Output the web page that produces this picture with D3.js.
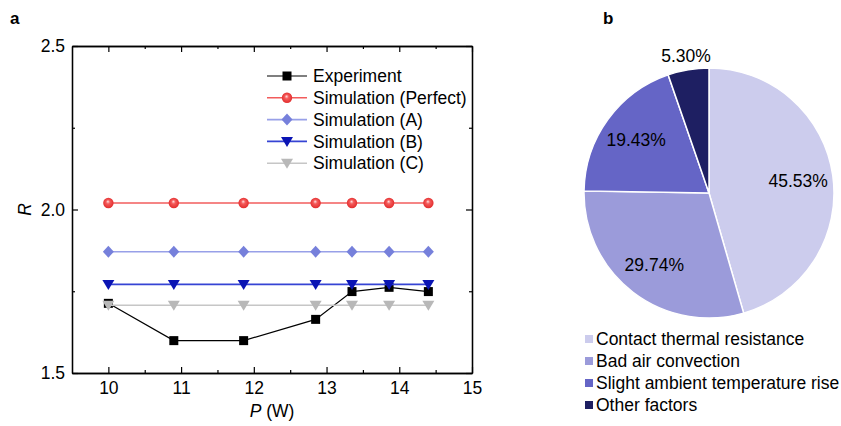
<!DOCTYPE html>
<html>
<head>
<meta charset="utf-8">
<script src="https://cdn.jsdelivr.net/npm/d3@7"></script>
<style>
  body { margin: 0; background: #fff; }
  svg { font-family: "Liberation Sans", Arial, sans-serif; }
</style>
</head>
<body>
<div id="chart"></div>
<script>
// panel a data
var powers = [10, 10.9, 11.86, 12.85, 13.35, 13.86, 14.4];
var experiment = [1.713, 1.599, 1.599, 1.664, 1.749, 1.762, 1.749];
var simPerfect = [2.02, 2.02, 2.02, 2.02, 2.02, 2.02, 2.02];
var simA = [1.871, 1.871, 1.871, 1.871, 1.871, 1.871, 1.871];
var simB = [1.771, 1.771, 1.771, 1.771, 1.771, 1.771, 1.771];
var simC = [1.707, 1.707, 1.707, 1.707, 1.707, 1.707, 1.707];
var seriesNames = ["Experiment", "Simulation (Perfect)", "Simulation (A)", "Simulation (B)", "Simulation (C)"];
var xTicks = [10, 11, 12, 13, 14, 15];
var yTicks = [1.5, 2.0, 2.5];

// panel b data
var factors = ["Contact thermal resistance", "Bad air convection", "Slight ambient temperature rise", "Other factors"];
var shares = [45.53, 29.74, 19.43, 5.30];
var pieColors = ["#cccced", "#9b9bda", "#6565c6", "#1e1f62"];

var w = 841, h = 426;
var fs = 17.5;
var svg = d3.select("#chart").append("svg")
    .attr("width", w)
    .attr("height", h);

var defs = svg.append("defs");
var grad = defs.append("radialGradient").attr("id", "ball")
    .attr("cx", "50%").attr("cy", "50%").attr("r", "55%")
    .attr("fx", "45%").attr("fy", "35%");
grad.append("stop").attr("offset", "0%").attr("stop-color", "#ffe0e0");
grad.append("stop").attr("offset", "35%").attr("stop-color", "#f45a5a");
grad.append("stop").attr("offset", "100%").attr("stop-color", "#e02828");

// ---------- panel a ----------
var margin = {top: 46, left: 72, right: 369, bottom: 53};
var innerW = w - margin.left - margin.right;
var innerH = h - margin.top - margin.bottom;

var x = d3.scaleLinear().domain([9.5, 15]).range([0, innerW]);
var y = d3.scaleLinear().domain([1.5, 2.5]).range([innerH, 0]);

var g = svg.append("g").attr("transform", `translate(${margin.left},${margin.top})`);

var minorX = [10.5, 11.5, 12.5, 13.5, 14.5];
var minorY = [1.75, 2.25];

function tickAxes() {
  var bottom = d3.axisBottom(x).tickValues(xTicks).tickSizeInner(-6).tickSizeOuter(0).tickPadding(9).tickFormat(d3.format("d"));
  var left = d3.axisLeft(y).tickValues(yTicks).tickSizeInner(-6).tickSizeOuter(0).tickPadding(7).tickFormat(d3.format(".1f"));
  var top = d3.axisTop(x).tickValues(xTicks).tickSizeInner(-6).tickSizeOuter(0).tickFormat("");
  var right = d3.axisRight(y).tickValues(yTicks).tickSizeInner(-6).tickSizeOuter(0).tickFormat("");

  g.append("g").attr("transform", `translate(0,${innerH})`).call(bottom);
  g.append("g").call(left);
  g.append("g").call(top);
  g.append("g").attr("transform", `translate(${innerW},0)`).call(right);

  g.append("g").attr("transform", `translate(0,${innerH})`)
    .call(d3.axisBottom(x).tickValues(minorX).tickSizeInner(-3).tickSizeOuter(0).tickFormat(""));
  g.append("g")
    .call(d3.axisTop(x).tickValues(minorX).tickSizeInner(-3).tickSizeOuter(0).tickFormat(""));
  g.append("g")
    .call(d3.axisLeft(y).tickValues(minorY).tickSizeInner(-3).tickSizeOuter(0).tickFormat(""));
  g.append("g").attr("transform", `translate(${innerW},0)`)
    .call(d3.axisRight(y).tickValues(minorY).tickSizeInner(-3).tickSizeOuter(0).tickFormat(""));

  g.selectAll(".domain").attr("stroke", "#000").attr("stroke-width", 1.3);
  g.selectAll(".tick line").attr("stroke", "#000").attr("stroke-width", 1.2);
  g.selectAll(".tick text").attr("font-size", fs).attr("fill", "#000")
    .attr("font-family", "Liberation Sans, Arial, sans-serif");
}

var lineGen = d3.line().x(d => x(d[0])).y(d => y(d[1]));

var series = [
  {name: seriesNames[0], vals: experiment, line: "#000", fill: "#000", width: 1.2, marker: "square"},
  {name: seriesNames[1], vals: simPerfect, line: "#f25c5c", fill: "url(#ball)", width: 1.6, marker: "ball"},
  {name: seriesNames[2], vals: simA, line: "#98a0e8", fill: "#7680db", width: 1.6, marker: "diamond"},
  {name: seriesNames[3], vals: simB, line: "#3644d4", fill: "#0a14b4", width: 1.8, marker: "tri"},
  {name: seriesNames[4], vals: simC, line: "#c6c6c6", fill: "#b8b8b8", width: 1.6, marker: "tri"}
];

function drawMarker(sel, s, cx, cy) {
  if (s.marker == "square") {
    sel.append("rect").attr("x", cx - 4.5).attr("y", cy - 4.5).attr("width", 9).attr("height", 9).attr("fill", s.fill);
  } else if (s.marker == "ball") {
    sel.append("circle").attr("cx", cx).attr("cy", cy).attr("r", 5.2).attr("fill", s.fill);
  } else if (s.marker == "diamond") {
    sel.append("path").attr("d", `M${cx},${cy - 6}L${cx + 5.5},${cy}L${cx},${cy + 6}L${cx - 5.5},${cy}Z`).attr("fill", s.fill);
  } else {
    sel.append("path").attr("d", `M${cx - 6},${cy - 4.5}L${cx + 6},${cy - 4.5}L${cx},${cy + 5.5}Z`).attr("fill", s.fill);
  }
}

series.forEach(function (s) {
  var pts = powers.map((p, i) => [p, s.vals[i]]);
  var sg = g.append("g");
  sg.append("path").datum(pts)
    .attr("d", lineGen)
    .attr("fill", "none")
    .attr("stroke", s.line)
    .attr("stroke-width", s.width);
  pts.forEach(d => drawMarker(sg, s, x(d[0]), y(d[1])));
});

tickAxes();

// legend a
var leg = g.append("g").attr("transform", "translate(195,30)");
series.forEach(function (s, i) {
  var ly = i * 21.8;
  leg.append("line").attr("x1", 0).attr("x2", 40).attr("y1", ly).attr("y2", ly)
    .attr("stroke", s.line).attr("stroke-width", s.width);
  drawMarker(leg, s, 20, ly);
  leg.append("text").attr("x", 46).attr("y", ly).attr("dy", "0.35em")
    .attr("font-size", fs).text(s.name);
});

// axis titles
var xt = svg.append("text").attr("x", margin.left + innerW / 2).attr("y", 417)
  .attr("text-anchor", "middle").attr("font-size", fs);
xt.append("tspan").attr("font-style", "italic").text("P");
xt.append("tspan").text(" (W)");

svg.append("text").attr("transform", `translate(31,${margin.top + innerH / 2}) rotate(-90)`)
  .attr("text-anchor", "middle").attr("font-size", fs).attr("font-style", "italic").text("R");

svg.append("text").attr("x", 10).attr("y", 24).attr("font-size", 17).attr("font-weight", "bold").text("a");
svg.append("text").attr("x", 603).attr("y", 24).attr("font-size", 17).attr("font-weight", "bold").text("b");

// ---------- panel b ----------
var r = 125;
var pieG = svg.append("g").attr("transform", "translate(709,193)");
var pie = d3.pie().sort(null).value(d => d);
var arcs = pie(shares);
var arc = d3.arc().innerRadius(0).outerRadius(r);
var labelArc = d3.arc().innerRadius(r * 0.72).outerRadius(r * 0.72);
var outerArc = d3.arc().innerRadius(r + 14).outerRadius(r + 14);

pieG.selectAll("path").data(arcs).enter().append("path")
  .attr("d", arc)
  .attr("fill", (d, i) => pieColors[i])
  .attr("stroke", "#fff")
  .attr("stroke-width", 1.5);

pieG.selectAll("text.lab").data(arcs).enter().append("text")
  .attr("class", "lab")
  .attr("transform", function (d) {
    var c = d.data < 10 ? outerArc.centroid(d) : labelArc.centroid(d);
    return `translate(${c[0]},${c[1]})`;
  })
  .attr("text-anchor", "middle")
  .attr("dy", "0.35em")
  .attr("font-size", fs)
  .text(d => d.data.toFixed(2) + "%");

var leg2 = svg.append("g").attr("transform", "translate(585,339)");
factors.forEach(function (f, i) {
  leg2.append("rect").attr("x", 0).attr("y", i * 22 - 4).attr("width", 8).attr("height", 8).attr("fill", pieColors[i]);
  leg2.append("text").attr("x", 11).attr("y", i * 22).attr("dy", "0.35em").attr("font-size", fs).text(f);
});
</script>
</body>
</html>
